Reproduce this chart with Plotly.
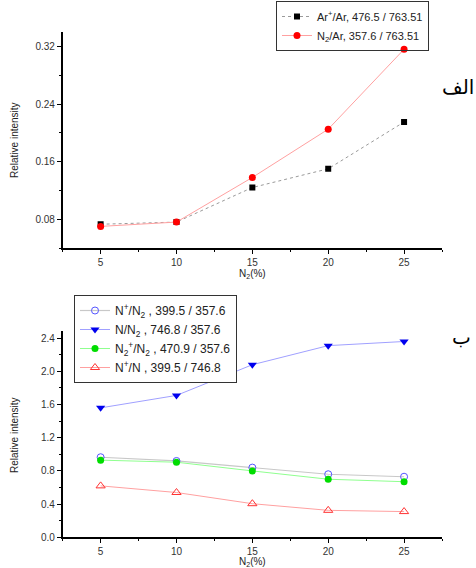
import plotly.graph_objects as go

# ---- data ----
n2_percent = [5, 10, 15, 20, 25]

# top panel (الف)
ar_plus_ar = [0.073, 0.076, 0.124, 0.150, 0.215]
n2_ar = [0.070, 0.076, 0.138, 0.205, 0.316]

# bottom panel (ب)
n_plus_n2 = [0.965, 0.92, 0.84, 0.76, 0.73]
n_n2 = [1.56, 1.71, 2.08, 2.31, 2.36]
n2_plus_n2 = [0.93, 0.905, 0.80, 0.70, 0.67]
n_plus_n = [0.62, 0.54, 0.405, 0.325, 0.31]

top_names = ["Ar<sup>+</sup>/Ar, 476.5 / 763.51", "N<sub>2</sub>/Ar, 357.6 / 763.51"]
bottom_names = [
    "N<sup>+</sup>/N<sub>2</sub> , 399.5 / 357.6",
    "N/N<sub>2</sub> , 746.8 / 357.6",
    "N<sub>2</sub><sup>+</sup>/N<sub>2</sub> , 470.9 / 357.6",
    "N<sup>+</sup>/N , 399.5 / 746.8",
]

W, H = 476, 568
FONT = "Liberation Sans, Arial, sans-serif"

fig = go.Figure()

# top traces
fig.add_trace(go.Scatter(x=n2_percent, y=ar_plus_ar, name=top_names[0], mode="lines+markers",
                         line=dict(color="#9a9a9a", width=1, dash="dot"),
                         marker=dict(symbol="square", size=6, color="black"),
                         xaxis="x", yaxis="y", legend="legend"))
fig.add_trace(go.Scatter(x=n2_percent, y=n2_ar, name=top_names[1], mode="lines+markers",
                         line=dict(color="#ffa0a0", width=1),
                         marker=dict(symbol="circle", size=7, color="#ff0000"),
                         xaxis="x", yaxis="y", legend="legend"))

# bottom traces
fig.add_trace(go.Scatter(x=n2_percent, y=n_plus_n2, name=bottom_names[0], mode="lines+markers",
                         line=dict(color="#c8c8c8", width=1.2),
                         marker=dict(symbol="circle-open", size=7, color="#5555ff", line=dict(width=1)),
                         xaxis="x2", yaxis="y2", legend="legend2"))
fig.add_trace(go.Scatter(x=n2_percent, y=n_n2, name=bottom_names[1], mode="lines+markers",
                         line=dict(color="#a0a0ff", width=1),
                         marker=dict(symbol="triangle-down", size=8, color="#0000ee"),
                         xaxis="x2", yaxis="y2", legend="legend2"))
fig.add_trace(go.Scatter(x=n2_percent, y=n2_plus_n2, name=bottom_names[2], mode="lines+markers",
                         line=dict(color="#8fff8f", width=1),
                         marker=dict(symbol="circle", size=7, color="#00dd00"),
                         xaxis="x2", yaxis="y2", legend="legend2"))
fig.add_trace(go.Scatter(x=n2_percent, y=n_plus_n, name=bottom_names[3], mode="lines+markers",
                         line=dict(color="#ffa0a0", width=1),
                         marker=dict(symbol="triangle-up-open", size=8, color="#ff3333", line=dict(width=1)),
                         xaxis="x2", yaxis="y2", legend="legend2"))

xdom = [62.7 / W, 442 / W]
top_dom = [1 - 248 / H, 1 - 32 / H]
bot_dom = [1 - 537.3 / H, 1 - 330.7 / H]

axis_common = dict(showline=True, linecolor="black", linewidth=1.5, ticks="outside",
                   ticklen=4, tickwidth=1, tickcolor="black", showgrid=False, zeroline=False,
                   tickfont=dict(family=FONT, size=10, color="#333"), mirror=False,
                   automargin=False)

fig.update_layout(
    width=W, height=H,
    margin=dict(l=0, r=0, t=0, b=0, autoexpand=False),
    paper_bgcolor="white", plot_bgcolor="white",
    font=dict(family=FONT, color="#222"),
    xaxis=dict(domain=xdom, anchor="y", range=[2.5, 27.5], tick0=0, dtick=5,
               minor=dict(ticks="outside", ticklen=2, dtick=2.5, tick0=0, tickcolor="black"),
               **axis_common),
    yaxis=dict(domain=top_dom, anchor="x", range=[0.04, 0.34], tick0=0, dtick=0.08,
               tickformat=".2f",
               minor=dict(ticks="outside", ticklen=2, dtick=0.04, tick0=0, tickcolor="black"),
               **axis_common),
    xaxis2=dict(domain=xdom, anchor="y2", range=[2.5, 27.5], tick0=0, dtick=5,
                minor=dict(ticks="outside", ticklen=2, dtick=2.5, tick0=0, tickcolor="black"),
                **axis_common),
    yaxis2=dict(domain=bot_dom, anchor="x2", range=[0, 2.49], tick0=0, dtick=0.4,
                tickformat=".1f",
                minor=dict(ticks="outside", ticklen=2, dtick=0.2, tick0=0, tickcolor="black"),
                **axis_common),
    legend=dict(x=276 / W, y=1 - 1 / H, xanchor="left", yanchor="top",
                bgcolor="rgba(255,255,255,0)", bordercolor="#333", borderwidth=1,
                font=dict(family=FONT, size=11, color="#222"), tracegroupgap=0,
                itemwidth=30),
    legend2=dict(x=74 / W, y=1 - 295 / H, xanchor="left", yanchor="top",
                 bgcolor="white", bordercolor="#333", borderwidth=1,
                 font=dict(family=FONT, size=12, color="#222"), tracegroupgap=0,
                 itemwidth=30),
    showlegend=True,
)

ann = [
    dict(text="Relative intensity", x=14 / W, y=1 - 140 / H, textangle=-90),
    dict(text="N<sub>2</sub>(%)", x=252 / W, y=1 - 274 / H),
    dict(text="Relative intensity", x=14 / W, y=1 - 435 / H, textangle=-90),
    dict(text="N<sub>2</sub>(%)", x=252 / W, y=1 - 562 / H),
]
for a in ann:
    fig.add_annotation(xref="paper", yref="paper", showarrow=False, xanchor="center", yanchor="middle",
                       font=dict(family="Liberation Sans Narrow, " + FONT, size=10, color="#222"), **a)

fig.add_annotation(text="الف", xref="paper", yref="paper", x=476 / W, y=1 - 87 / H, showarrow=False,
                   xanchor="right", yanchor="middle", font=dict(family="DejaVu Sans", size=20, color="black"))
fig.add_annotation(text="ب", xref="paper", yref="paper", x=473 / W, y=1 - 337 / H, showarrow=False,
                   xanchor="right", yanchor="middle", font=dict(family="DejaVu Sans", size=20, color="black"))

fig.write_html("out.html", config={"displayModeBar": False},
               post_script="document.body.style.margin='0';document.body.style.padding='0';")
